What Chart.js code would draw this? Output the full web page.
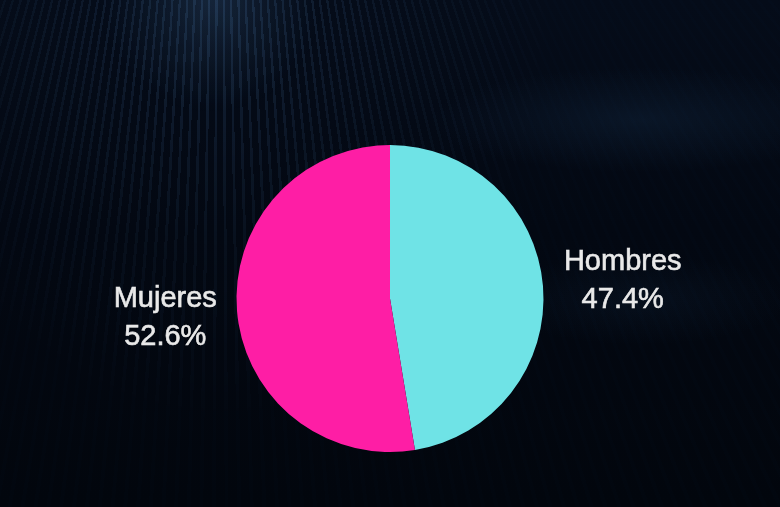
<!DOCTYPE html>
<html>
<head>
<meta charset="utf-8">
<script src="https://cdn.jsdelivr.net/npm/chart.js@4.4.1/dist/chart.umd.min.js"></script>
<style>
  html, body { margin: 0; padding: 0; }
  body {
    width: 780px;
    height: 507px;
    overflow: hidden;
    background: linear-gradient(180deg, #050c19 0%, #030812 45%, #02060d 100%);
  }
  #wrap { position: relative; width: 780px; height: 507px; }
  #rays {
    position: absolute; left: 0; top: 0; width: 780px; height: 507px;
    background-image:
      repeating-conic-gradient(from 140deg at 220px -700px, rgba(80, 130, 185, 0.20) 0deg 0.18deg, rgba(0, 0, 0, 0) 0.18deg 0.6deg),
      radial-gradient(ellipse 150px 150px at 210px 0px, rgba(80, 130, 180, 0.22), rgba(0, 0, 0, 0) 75%);
    -webkit-mask-image: radial-gradient(ellipse 330px 420px at 220px 0px, rgba(0,0,0,1) 0%, rgba(0,0,0,0.35) 60%, rgba(0,0,0,0.08) 100%);
    mask-image: radial-gradient(ellipse 330px 420px at 220px 0px, rgba(0,0,0,1) 0%, rgba(0,0,0,0.35) 60%, rgba(0,0,0,0.08) 100%);
  }
  #glow {
    position: absolute; left: 0; top: 0; width: 780px; height: 507px;
    background:
      radial-gradient(ellipse 280px 70px at 640px 120px, rgba(40, 85, 130, 0.16), rgba(0, 0, 0, 0) 75%),
      radial-gradient(ellipse 200px 60px at 640px 300px, rgba(40, 85, 130, 0.10), rgba(0, 0, 0, 0) 75%);
  }
  #pie { position: absolute; left: 0; top: 0; }
</style>
</head>
<body>
<div id="wrap">
  <div id="rays"></div>
  <div id="glow"></div>
  <canvas id="pie" width="780" height="507"></canvas>
</div>
<script>
const labels = ["Hombres", "Mujeres"];
const values = [47.4, 52.6];
const colors = ["#6fe3e6", "#fe1ea5"];

// draws "Name\nxx.x%" outside each slice, along its middle angle
const outsideLabels = {
    id: "outsideLabels",
    afterDatasetsDraw(chart) {
        const ctx = chart.ctx;
        const meta = chart.getDatasetMeta(0);
        ctx.save();
        ctx.font = "29px 'Liberation Sans', Arial, sans-serif";
        ctx.fillStyle = "#e9e9e9";
        ctx.strokeStyle = "#e9e9e9";
        ctx.lineWidth = 0.6;
        ctx.textAlign = "center";
        ctx.textBaseline = "middle";
        meta.data.forEach((arc, i) => {
            const mid = (arc.startAngle + arc.endAngle) / 2;
            const dist = arc.outerRadius + 76;
            const x = arc.x + Math.cos(mid) * dist + 4;
            const y = arc.y + Math.sin(mid) * dist + 1;
            const name = labels[i];
            const pct = values[i].toFixed(1) + "%";
            ctx.fillText(name, x, y - 19);
            ctx.strokeText(name, x, y - 19);
            ctx.fillText(pct, x, y + 19);
            ctx.strokeText(pct, x, y + 19);
        });
        ctx.restore();
    }
};

new Chart(document.getElementById("pie"), {
    type: "pie",
    data: {
        labels: labels,
        datasets: [{
            data: values,
            backgroundColor: colors,
            borderWidth: 0
        }]
    },
    options: {
        responsive: false,
        animation: false,
        layout: {
            padding: { top: 145, bottom: 55, left: 0, right: 0 }
        },
        plugins: {
            legend: { display: false },
            tooltip: { enabled: false }
        }
    },
    plugins: [outsideLabels]
});
</script>
</body>
</html>
